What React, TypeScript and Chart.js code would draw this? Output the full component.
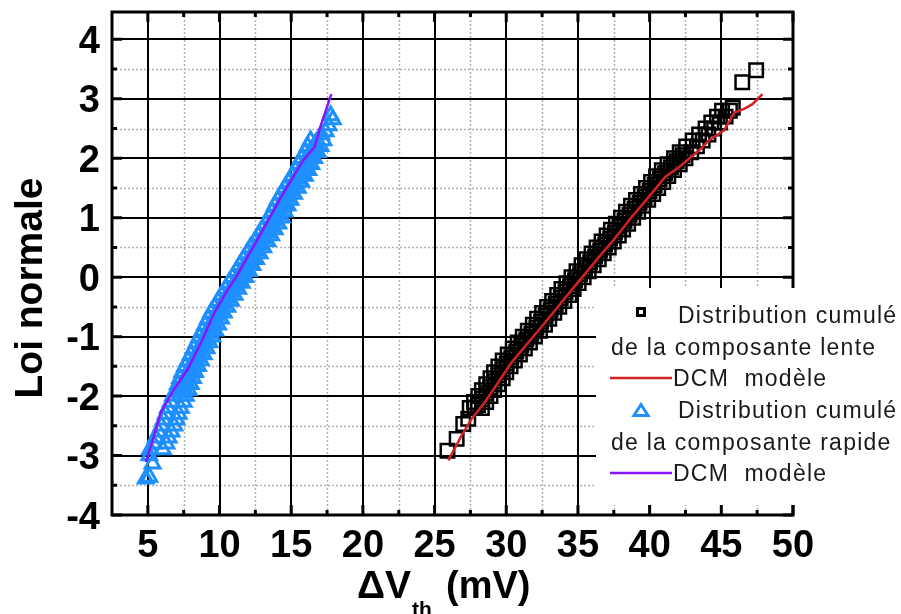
import React, { useEffect, useRef } from "react";
import { Chart, registerables } from "chart.js";

Chart.register(...registerables);

// ---- axis ticks ----
const xTicks = [5, 10, 15, 20, 25, 30, 35, 40, 45, 50];
const xMinorTicks = [7.5, 12.5, 17.5, 22.5, 27.5, 32.5, 37.5, 42.5, 47.5];
const yTicks = [-4, -3, -2, -1, 0, 1, 2, 3, 4];
const yMinorTicks = [-3.5, -2.5, -1.5, -0.5, 0.5, 1.5, 2.5, 3.5];

// ---- slow component (black squares) ----
const lenteLevels = [
  -2.2, -2.1, -2.0, -1.9, -1.8, -1.7, -1.6, -1.5, -1.4, -1.3, -1.2, -1.1, -1.0,
  -0.9, -0.8, -0.7, -0.6, -0.5, -0.4, -0.3, -0.2, -0.1, 0.0, 0.1, 0.2, 0.3, 0.4,
  0.5, 0.6, 0.7, 0.8, 0.9, 1.0, 1.1, 1.2, 1.3, 1.4, 1.5, 1.6, 1.7, 1.8, 1.9, 2.0,
  2.1, 2.2, 2.3, 2.4, 2.5, 2.6, 2.7, 2.8,
];
const lenteInnerX = [
  27.45, 27.75, 28.05, 28.3, 28.6, 28.9, 29.15, 29.45, 29.75, 30.1, 30.45, 30.8, 31.15,
  31.5, 31.85, 32.15, 32.5, 32.85, 33.2, 33.55, 33.85, 34.2, 34.55, 34.9, 35.25, 35.6, 35.95,
  36.3, 36.65, 37.0, 37.3, 37.65, 38.0, 38.35, 38.7, 39.05, 39.4, 39.75, 40.1, 40.45, 40.85,
  41.25, 41.7, 42.1, 42.55, 43.0, 43.45, 43.9, 44.3, 44.7, 45.05,
];
const lenteOuterX = [
  28.3, 28.6, 28.9, 29.15, 29.45, 29.75, 30.0, 30.3, 30.6, 30.95, 31.3, 31.65, 32.0,
  32.35, 32.7, 33.0, 33.35, 33.7, 34.05, 34.4, 34.7, 35.05, 35.4, 35.75, 36.1, 36.45, 36.8,
  37.15, 37.5, 37.85, 38.15, 38.5, 38.85, 39.2, 39.55, 39.9, 40.25, 40.6, 40.95, 41.3, 41.7,
  42.1, 42.5, 42.9, 43.3, 43.7, 44.1, 44.5, 44.9, 45.3, 45.6,
];
const lenteMidLevels = [
  -2.15, -2.05, -1.95, -1.85, -1.75, -1.65, -1.55, -1.45, -1.35, -1.25, -1.15, -1.05,
  -0.95, -0.85, -0.75, -0.65, -0.55, -0.45, -0.35, -0.25, -0.15, -0.05, 0.05, 0.15,
  0.25, 0.35, 0.45, 0.55, 0.65, 0.75, 0.85, 0.95, 1.05, 1.15, 1.25, 1.35, 1.45, 1.55,
  1.65, 1.75, 1.85, 1.95, 2.05,
];
const lenteMidX = [
  28.03, 28.33, 28.6, 28.88, 29.18, 29.45, 29.73, 30.03, 30.35, 30.7, 31.05, 31.4,
  31.75, 32.1, 32.43, 32.75, 33.1, 33.45, 33.8, 34.13, 34.45, 34.8, 35.15, 35.5,
  35.85, 36.2, 36.55, 36.9, 37.25, 37.58, 37.9, 38.25, 38.6, 38.95, 39.3, 39.65, 40.0, 40.35,
  40.7, 41.08, 41.48, 41.89, 42.3,
];
const lenteTailX = [25.9, 26.54, 27.0, 27.35, 27.8, 45.8, 46.46, 47.43];
const lenteTailY = [-2.92, -2.72, -2.47, -2.38, -2.19, 2.85, 3.28, 3.48];

// ---- slow component model (red line) ----
const lenteModelX = [
  25.96, 26.89, 27.59, 28.52, 30.38, 32.48, 34.58, 36.68, 37.5, 38.78, 39.94, 41.1,
  42.04, 43.44, 44.14, 45.19, 45.54, 45.9, 46.59, 47.17, 47.87,
];
const lenteModelY = [
  -3.08, -2.66, -2.38, -2.1, -1.43, -0.83, -0.21, 0.4, 0.63, 1.02, 1.35, 1.69,
  1.85, 2.13, 2.3, 2.47, 2.61, 2.77, 2.83, 2.91, 3.08,
];

// ---- fast component (blue triangles) ----
const rapideLevels = [
  -2.9, -2.8, -2.7, -2.6, -2.5, -2.4, -2.3, -2.2, -2.1, -2.0, -1.9, -1.8, -1.7, -1.6,
  -1.5, -1.4, -1.3, -1.2, -1.1, -1.0, -0.9, -0.8, -0.7, -0.6, -0.5, -0.4, -0.3, -0.2,
  -0.1, 0.0, 0.1, 0.2, 0.3, 0.4, 0.5, 0.6, 0.7, 0.8, 0.9, 1.0, 1.1, 1.2, 1.3, 1.4,
  1.5, 1.6, 1.7, 1.8, 1.9, 2.0, 2.1, 2.2, 2.3,
];
const rapideInnerX = [
  5.15, 5.4, 5.55, 5.75, 5.95, 6.1, 6.25, 6.4, 6.6, 6.75, 6.95, 7.1, 7.25, 7.4,
  7.6, 7.8, 8.0, 8.2, 8.4, 8.6, 8.8, 9.0, 9.2, 9.4, 9.65, 9.9, 10.15, 10.4,
  10.65, 10.9, 11.15, 11.4, 11.65, 11.9, 12.15, 12.45, 12.7, 12.95, 13.2, 13.45, 13.65, 13.85,
  14.05, 14.3, 14.55, 14.8, 15.05, 15.3, 15.5, 15.7, 15.95, 16.15, 16.35,
];
const rapideOuterX = [
  6.05, 6.3, 6.45, 6.65, 6.85, 7.0, 7.15, 7.3, 7.5, 7.65, 7.85, 8.0, 8.15, 8.3,
  8.5, 8.7, 8.9, 9.1, 9.3, 9.5, 9.7, 9.9, 10.1, 10.3, 10.55, 10.8, 11.05, 11.3,
  11.55, 11.8, 12.05, 12.3, 12.55, 12.8, 13.05, 13.35, 13.6, 13.85, 14.1, 14.35, 14.55, 14.75,
  14.95, 15.2, 15.45, 15.7, 15.95, 16.2, 16.4, 16.6, 16.85, 17.05, 17.25,
];
const rapideMidLevels = [
  -1.95, -1.85, -1.75, -1.65, -1.55, -1.45, -1.35, -1.25, -1.15, -1.05, -0.95, -0.85,
  -0.75, -0.65, -0.55, -0.45, -0.35, -0.25, -0.15, -0.05, 0.05, 0.15, 0.25, 0.35,
  0.45, 0.55, 0.65, 0.75, 0.85, 0.95, 1.05, 1.15, 1.25, 1.35, 1.45, 1.55, 1.65, 1.75,
  1.85, 1.95, 2.05, 2.15, 2.25,
];
const rapideMidX = [
  7.3, 7.48, 7.63, 7.78, 7.95, 8.15, 8.35, 8.55, 8.75, 8.95, 9.15, 9.35,
  9.55, 9.75, 9.98, 10.23, 10.48, 10.73, 10.98, 11.23, 11.48, 11.73, 11.98, 12.23,
  12.48, 12.75, 13.03, 13.28, 13.53, 13.78, 14.0, 14.2, 14.4, 14.63, 14.88, 15.13, 15.38, 15.63,
  15.85, 16.05, 16.28, 16.5, 16.7,
];
const rapideTailX = [4.85, 5.1, 5.33, 5.1, 17.1, 17.4, 17.6, 17.9, 17.75];
const rapideTailY = [-3.39, -3.36, -3.14, -3.0, 2.4, 2.45, 2.55, 2.65, 2.72];

// ---- fast component model (purple line) ----
const rapideModelX = [
  4.86, 5.44, 5.91, 6.84, 7.78, 8.71, 9.64, 10.57, 11.2, 12.9, 14.3, 15.82, 16.63, 17.1, 17.8,
];
const rapideModelY = [
  -3.11, -2.66, -2.27, -1.88, -1.55, -1.1, -0.6, -0.21, 0.02, 0.74, 1.35, 1.96, 2.19, 2.58, 3.08,
];

// ---- texts ----
const legendLines = [
  "Distribution cumulé",
  "de la composante lente",
  "DCM  modèle",
  "Distribution cumulé",
  "de la composante rapide",
  "DCM  modèle",
];
const yTitle = "Loi normale";

const RED = "#d42222";
const PURPLE = "#8a14ff";
const BLUE = "#1e8fff";

function zip(xs: number[], ys: number[]) {
  return xs.map((x, i) => ({ x, y: ys[i] }));
}

const framePlugin = {
  id: "frame",
  beforeDatasetsDraw(chart: any) {
    const { ctx, chartArea: a, scales } = chart;
    const sx = scales.x;
    const sy = scales.y;
    ctx.save();
    ctx.strokeStyle = "#b2b2b2";
    ctx.lineWidth = 1.5;
    ctx.setLineDash([2, 2]);
    ctx.beginPath();
    for (const v of xMinorTicks) {
      const p = Math.round(sx.getPixelForValue(v)) + 0.5;
      ctx.moveTo(p, a.top);
      ctx.lineTo(p, a.bottom);
    }
    for (const v of yMinorTicks) {
      const p = Math.round(sy.getPixelForValue(v)) + 0.5;
      ctx.moveTo(a.left, p);
      ctx.lineTo(a.right, p);
    }
    ctx.stroke();
    ctx.setLineDash([]);
    ctx.strokeStyle = "#000";
    ctx.lineWidth = 2;
    ctx.beginPath();
    for (const v of xTicks) {
      const p = Math.round(sx.getPixelForValue(v));
      ctx.moveTo(p, a.top);
      ctx.lineTo(p, a.bottom);
    }
    for (const v of yTicks) {
      const p = Math.round(sy.getPixelForValue(v));
      ctx.moveTo(a.left, p);
      ctx.lineTo(a.right, p);
    }
    ctx.stroke();
    ctx.restore();
  },
  afterDatasetsDraw(chart: any) {
    const { ctx, chartArea: a, scales } = chart;
    const sx = scales.x;
    const sy = scales.y;
    ctx.save();
    ctx.strokeStyle = "#000";
    ctx.lineWidth = 3;
    ctx.strokeRect(a.left, a.top, a.right - a.left, a.bottom - a.top);
    ctx.beginPath();
    const tick = (len: number, vals: number[], axis: "x" | "y") => {
      for (const v of vals) {
        if (axis === "x") {
          const p = sx.getPixelForValue(v);
          ctx.moveTo(p, a.bottom);
          ctx.lineTo(p, a.bottom - len);
          ctx.moveTo(p, a.top);
          ctx.lineTo(p, a.top + len);
        } else {
          const p = sy.getPixelForValue(v);
          ctx.moveTo(a.left, p);
          ctx.lineTo(a.left + len, p);
          ctx.moveTo(a.right, p);
          ctx.lineTo(a.right - len, p);
        }
      }
    };
    tick(10, xTicks, "x");
    tick(5, xMinorTicks, "x");
    tick(10, yTicks, "y");
    tick(5, yMinorTicks, "y");
    ctx.stroke();

    // legend box
    ctx.fillStyle = "#fff";
    ctx.fillRect(596, 288, 901 - 596, 505 - 288);
    ctx.fillStyle = "#1a1a1a";
    ctx.font = "23px 'Liberation Sans', Arial, sans-serif";
    (ctx as any).letterSpacing = "1.25px";
    ctx.textAlign = "left";
    ctx.textBaseline = "alphabetic";
    const base = [323, 354.5, 386, 418, 449.5, 481];
    ctx.fillText(legendLines[0], 678, base[0]);
    ctx.fillText(legendLines[1], 611, base[1]);
    ctx.fillText(legendLines[2], 673, base[2]);
    ctx.fillText(legendLines[3], 678, base[3]);
    ctx.fillText(legendLines[4], 611, base[4]);
    ctx.fillText(legendLines[5], 673, base[5]);
    (ctx as any).letterSpacing = "0px";
    ctx.strokeStyle = "#000";
    ctx.lineWidth = 3;
    ctx.strokeRect(637.5, 308.5, 7, 7);
    ctx.strokeStyle = RED;
    ctx.lineWidth = 2.5;
    ctx.beginPath();
    ctx.moveTo(610, 378);
    ctx.lineTo(672, 378);
    ctx.stroke();
    ctx.strokeStyle = BLUE;
    ctx.lineWidth = 3;
    ctx.beginPath();
    ctx.moveTo(641, 404.5);
    ctx.lineTo(648, 415.5);
    ctx.lineTo(634, 415.5);
    ctx.closePath();
    ctx.stroke();
    ctx.strokeStyle = PURPLE;
    ctx.lineWidth = 2.5;
    ctx.beginPath();
    ctx.moveTo(610, 473);
    ctx.lineTo(672, 473);
    ctx.stroke();

    // tick labels
    ctx.fillStyle = "#000";
    ctx.font = "bold 38px 'Liberation Sans', Arial, sans-serif";
    ctx.textAlign = "center";
    ctx.textBaseline = "alphabetic";
    for (const v of xTicks) {
      ctx.fillText(String(v), sx.getPixelForValue(v), 557);
    }
    ctx.textAlign = "right";
    for (const v of yTicks) {
      ctx.fillText(String(v), 100, sy.getPixelForValue(v) + 13.5);
    }

    // axis titles
    ctx.textAlign = "left";
    ctx.font = "bold 39px 'Liberation Sans', Arial, sans-serif";
    ctx.fillText("ΔV", 357, 598);
    ctx.font = "bold 21px 'Liberation Sans', Arial, sans-serif";
    ctx.fillText("th", 412, 616);
    ctx.font = "bold 38px 'Liberation Sans', Arial, sans-serif";
    ctx.fillText("(mV)", 446, 598);

    ctx.save();
    ctx.translate(42, 288);
    ctx.rotate(-Math.PI / 2);
    ctx.textAlign = "center";
    ctx.font = "bold 39px 'Liberation Sans', Arial, sans-serif";
    ctx.fillText(yTitle, 0, 0);
    ctx.restore();

    ctx.restore();
  },
};

export default function App() {
  const ref = useRef<HTMLCanvasElement | null>(null);
  useEffect(() => {
    if (!ref.current) return;
    const lente = [
      ...zip(lenteInnerX, lenteLevels),
      ...zip(lenteOuterX, lenteLevels),
      ...zip(lenteMidX, lenteMidLevels),
      ...zip(lenteTailX, lenteTailY),
    ];
    const rapide = [
      ...zip(rapideInnerX, rapideLevels),
      ...zip(rapideOuterX, rapideLevels),
      ...zip(rapideMidX, rapideMidLevels),
      ...zip(rapideTailX, rapideTailY),
    ];
    const chart = new Chart(ref.current, {
      type: "scatter",
      data: {
        datasets: [
          {
            label: "DCM modèle (lente)",
            data: zip(lenteModelX, lenteModelY),
            showLine: true,
            borderColor: RED,
            borderWidth: 2.5,
            pointRadius: 0,
            tension: 0,
          },
          {
            label: "DCM modèle (rapide)",
            data: zip(rapideModelX, rapideModelY),
            showLine: true,
            borderColor: PURPLE,
            borderWidth: 2.5,
            pointRadius: 0,
            tension: 0,
          },
          {
            label: "Distribution cumulé de la composante lente",
            data: lente,
            pointStyle: "rect",
            pointRadius: 9.5,
            borderColor: "#000",
            borderWidth: 2.5,
            backgroundColor: "rgba(0,0,0,0)",
          },
          {
            label: "Distribution cumulé de la composante rapide",
            data: rapide,
            pointStyle: "triangle",
            pointRadius: 8.5,
            borderColor: BLUE,
            borderWidth: 3,
            backgroundColor: "rgba(0,0,0,0)",
          },
        ],
      } as any,
      options: {
        animation: false,
        responsive: false,
        maintainAspectRatio: false,
        events: [],
        layout: { padding: { left: 112, right: 108, top: 11, bottom: 99 } },
        scales: {
          x: { type: "linear", min: 2.5, max: 50, display: false },
          y: { type: "linear", min: -4, max: 4.46, display: false },
        },
        plugins: { legend: { display: false }, tooltip: { enabled: false } },
      } as any,
      plugins: [framePlugin],
    });
    return () => chart.destroy();
  }, []);
  return (
    <div
      style={{
        position: "absolute",
        left: 0,
        top: 0,
        width: 901,
        height: 614,
        background: "#fff",
      }}
    >
      <canvas ref={ref} width={901} height={614} style={{ display: "block" }} />
    </div>
  );
}
